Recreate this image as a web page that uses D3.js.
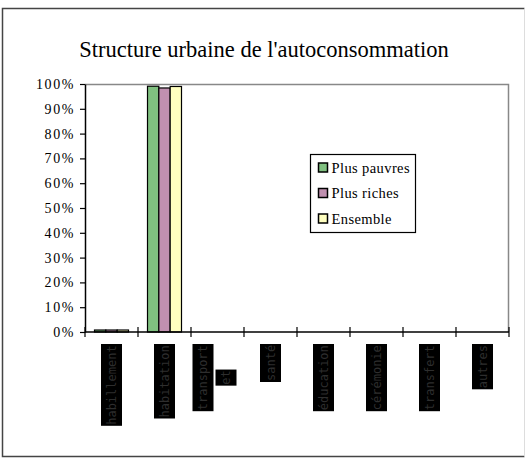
<!DOCTYPE html>
<html>
<head>
<meta charset="utf-8">
<script src="https://cdn.jsdelivr.net/npm/d3@7"></script>
<style>
  body { margin: 0; background: #fff; }
  svg { display: block; }
</style>
</head>
<body>
<div class="chart-container"></div>
<script>
// data
const categories = ['habillement', 'habitation', 'transport et', 'santé', 'éducation', 'cérémonie', 'transfert', 'autres'];
const seriesNames = ['Plus pauvres', 'Plus riches', 'Ensemble'];
const seriesColors = ['#80c080', '#c090b0', '#ffffc0'];
const plusPauvres = [0.8, 99.1, 0, 0, 0, 0, 0, 0];
const plusRiches = [0.8, 98.4, 0, 0, 0, 0, 0, 0];
const ensemble = [0.8, 99.0, 0, 0, 0, 0, 0, 0];
const yTicks = [0, 10, 20, 30, 40, 50, 60, 70, 80, 90, 100];

const seriesValues = [plusPauvres, plusRiches, ensemble];
const rows = categories.map((c, i) => ({
    category: c,
    values: seriesValues.map((s, j) => ({ key: seriesNames[j], value: s[i], color: seriesColors[j] }))
}));

const width = 526, height = 458;
const margin = { top: 84, right: 17, bottom: 126, left: 85 };
const plotWidth = width - margin.left - margin.right;
const plotHeight = height - margin.top - margin.bottom;

const svg = d3.select('.chart-container')
    .append('svg')
    .attr('width', width)
    .attr('height', height);

// outer frame
svg.append('path')
    .attr('d', 'M524.5,8.5H2.5V456.5H524.5')
    .attr('fill', 'none')
    .attr('stroke', '#444')
    .attr('stroke-width', 1.5);
svg.append('line')
    .attr('x1', 524.5).attr('x2', 524.5)
    .attr('y1', 8.5).attr('y2', 456.5)
    .attr('stroke', '#ddd');

// title
svg.append('text')
    .attr('x', 264)
    .attr('y', 57)
    .attr('text-anchor', 'middle')
    .style('font-family', '"Liberation Serif", "Times New Roman", serif')
    .style('font-size', '22.5px')
    .text("Structure urbaine de l'autoconsommation");

const g = svg.append('g')
    .attr('transform', `translate(${margin.left}, ${margin.top})`);

// scales
const xScale = d3.scaleBand()
    .domain(categories)
    .range([0, plotWidth]);

const xInner = d3.scaleBand()
    .domain(seriesNames)
    .range([0, 34]);

const yScale = d3.scaleLinear()
    .domain([0, 100])
    .range([plotHeight, 0]);

// plot area top / right border
g.append('path')
    .attr('d', `M0,0.5H${plotWidth - 0.5}V${plotHeight}`)
    .attr('fill', 'none')
    .attr('stroke', '#888')
    .attr('stroke-width', 1.5);

// bars
const groups = g.selectAll('.group')
    .data(rows)
    .enter().append('g')
    .attr('class', 'group')
    .attr('transform', d => `translate(${xScale(d.category) + (xScale.bandwidth() - 34) / 2}, 0)`);

groups.selectAll('rect')
    .data(d => d.values.filter(v => v.value > 0))
    .enter().append('rect')
    .attr('x', d => xInner(d.key))
    .attr('y', d => yScale(d.value))
    .attr('width', xInner.bandwidth())
    .attr('height', d => plotHeight - yScale(d.value))
    .attr('fill', d => d.color)
    .attr('stroke', '#000')
    .attr('stroke-width', 1.2);

// y axis
const yAxis = g.append('g')
    .attr('class', 'y-axis')
    .call(d3.axisLeft(yScale).tickValues(yTicks).tickSize(5).tickSizeOuter(0).tickFormat(d => d + '%'));
yAxis.select('.domain').attr('stroke', '#000').attr('stroke-width', 1.5);
yAxis.selectAll('.tick line').attr('stroke', '#000').attr('stroke-width', 1.2);
yAxis.selectAll('.tick text')
    .attr('x', -10)
    .style('font-family', '"Liberation Serif", "Times New Roman", serif')
    .style('font-size', '14px')
    .style('letter-spacing', '1.6px')
    .attr('fill', '#000');

// x axis with ticks at the category boundaries
const xAxis = g.append('g')
    .attr('class', 'x-axis')
    .attr('transform', `translate(0, ${plotHeight})`);
xAxis.append('line')
    .attr('x1', 0).attr('x2', plotWidth)
    .attr('stroke', '#000').attr('stroke-width', 1.5);
xAxis.selectAll('.tick')
    .data(categories.map(c => xScale(c)).concat([plotWidth]))
    .enter().append('line')
    .attr('x1', d => d).attr('x2', d => d)
    .attr('y1', -5).attr('y2', 5)
    .attr('stroke', '#000').attr('stroke-width', 1.2);

// rotated category labels on black boxes
const labels = xAxis.selectAll('.cat-label')
    .data(categories)
    .enter().append('g')
    .attr('class', 'cat-label');

labels.each(function(d) {
    const lbl = d3.select(this);
    const lines = d.split(' ');
    const charW = 7.3, lineH = 21, top = 12;
    const longest = d3.max(lines, l => l.length) * charW;
    const cx = xScale(d) + xScale.bandwidth() / 2 - (lines.length - 1) * lineH / 2 + (lines.length > 1 ? -4 : 0);
    lines.forEach((line, i) => {
        const len = line.length * charW;
        const bx = cx - lineH / 2 + i * lineH + (i > 0 ? 2 : 0);
        const by = top + (longest - len) / 2 * (i > 0 ? 1 : 0);
        const bh = len + 1.5;
        lbl.append('rect')
            .attr('x', bx).attr('y', by)
            .attr('width', lineH).attr('height', bh)
            .attr('fill', '#000');
        lbl.append('text')
            .attr('transform', `translate(${bx + lineH / 2 + 4}, ${by + bh - 1}) rotate(-90)`)
            .style('font-family', '"DejaVu Sans Mono", monospace')
            .style('font-size', '12px')
            .attr('fill', '#2e2e2e')
            .text(line);
    });
});

// legend
const legend = svg.append('g')
    .attr('transform', 'translate(310.5, 154.5)');
legend.append('rect')
    .attr('width', 105).attr('height', 78)
    .attr('fill', '#fff')
    .attr('stroke', '#000')
    .attr('stroke-width', 1.2);
const items = legend.selectAll('.item')
    .data(seriesNames)
    .enter().append('g')
    .attr('class', 'item')
    .attr('transform', (d, i) => `translate(8, ${13 + i * 25.5})`);
items.append('rect')
    .attr('y', -4.5)
    .attr('width', 9).attr('height', 9)
    .attr('fill', (d, i) => seriesColors[i])
    .attr('stroke', '#000')
    .attr('stroke-width', 1.5);
items.append('text')
    .attr('x', 13)
    .attr('y', 5)
    .style('font-family', '"Liberation Serif", "Times New Roman", serif')
    .style('font-size', '14.5px')
    .style('letter-spacing', '0.4px')
    .text(d => d);
</script>
</body>
</html>
